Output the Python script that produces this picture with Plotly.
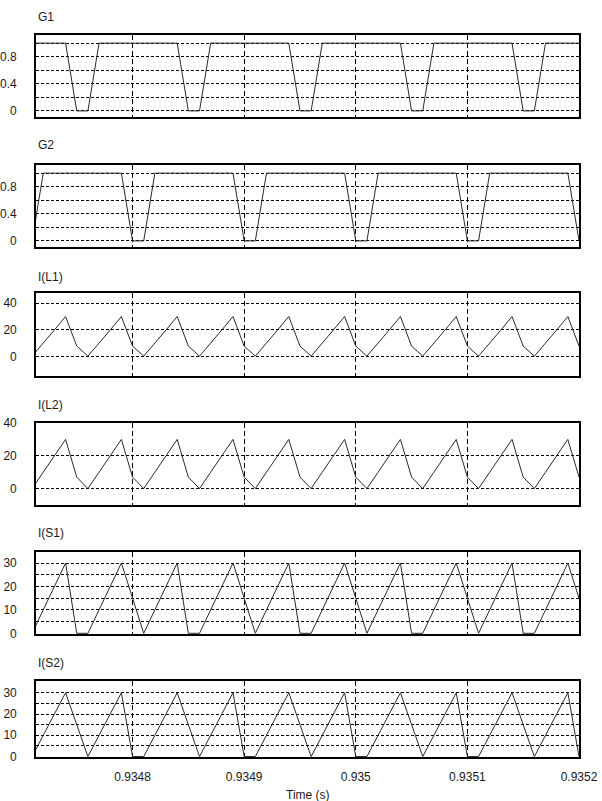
import plotly.graph_objects as go

# ---------------- data ----------------
time_s = [0.93471, 0.93472, 0.93473, 0.93474, 0.93475, 0.93476, 0.93477, 0.93478, 0.93479, 0.93480,
          0.93481, 0.93482, 0.93483, 0.93484, 0.93485, 0.93486, 0.93487, 0.93488, 0.93489, 0.93490,
          0.93491, 0.93492, 0.93493, 0.93494, 0.93495, 0.93496, 0.93497, 0.93498, 0.93499, 0.93500,
          0.93501, 0.93502, 0.93503, 0.93504, 0.93505, 0.93506, 0.93507, 0.93508, 0.93509, 0.93510,
          0.93511, 0.93512, 0.93513, 0.93514, 0.93515, 0.93516, 0.93517, 0.93518, 0.93519, 0.93520]

g1 = [1, 1, 1, 1, 0, 0, 1, 1, 1, 1,
      1, 1, 1, 1, 0, 0, 1, 1, 1, 1,
      1, 1, 1, 1, 0, 0, 1, 1, 1, 1,
      1, 1, 1, 1, 0, 0, 1, 1, 1, 1,
      1, 1, 1, 1, 0, 0, 1, 1, 1, 1]

g2 = [0, 1, 1, 1, 1, 1, 1, 1, 1, 0,
      0, 1, 1, 1, 1, 1, 1, 1, 1, 0,
      0, 1, 1, 1, 1, 1, 1, 1, 1, 0,
      0, 1, 1, 1, 1, 1, 1, 1, 1, 0,
      0, 1, 1, 1, 1, 1, 1, 1, 1, 0]

i_l1 = [0.5, 10, 20, 30, 8, 0.5, 10, 20, 30, 8,
        0.5, 10, 20, 30, 8, 0.5, 10, 20, 30, 8,
        0.5, 10, 20, 30, 8, 0.5, 10, 20, 30, 8,
        0.5, 10, 20, 30, 8, 0.5, 10, 20, 30, 8,
        0.5, 10, 20, 30, 8, 0.5, 10, 20, 30, 8]

i_l2 = [0, 10, 20, 30, 7, 0, 10, 20, 30, 7,
        0, 10, 20, 30, 7, 0, 10, 20, 30, 7,
        0, 10, 20, 30, 7, 0, 10, 20, 30, 7,
        0, 10, 20, 30, 7, 0, 10, 20, 30, 7,
        0, 10, 20, 30, 7, 0, 10, 20, 30, 7]

i_s1 = [0, 10, 20, 30, 0, 0, 10, 20, 30, 15,
        0, 10, 20, 30, 0, 0, 10, 20, 30, 15,
        0, 10, 20, 30, 0, 0, 10, 20, 30, 15,
        0, 10, 20, 30, 0, 0, 10, 20, 30, 15,
        0, 10, 20, 30, 0, 0, 10, 20, 30, 15]

i_s2 = [0, 10, 20, 30, 15, 0, 10, 20, 30, 0,
        0, 10, 20, 30, 15, 0, 10, 20, 30, 0,
        0, 10, 20, 30, 15, 0, 10, 20, 30, 0,
        0, 10, 20, 30, 15, 0, 10, 20, 30, 0,
        0, 10, 20, 30, 15, 0, 10, 20, 30, 0]

panel_names = ["G1", "G2", "I(L1)", "I(L2)", "I(S1)", "I(S2)"]
series = [g1, g2, i_l1, i_l2, i_s1, i_s2]

x_tickvals = [0.9348, 0.9349, 0.935, 0.9351, 0.9352]
x_ticktext = ["0.9348", "0.9349", "0.935", "0.9351", "0.9352"]

gate_grid = [0, 0.2, 0.4, 0.6, 0.8, 1.0]
gate_text = ["0", "", "0.4", "", "0.8", ""]
il_grid = [0, 20, 40]
il_text = ["0", "20", "40"]
is_grid = [0, 5, 10, 15, 20, 25, 30]
is_text = ["0", "", "10", "", "20", "", "30"]

y_tickvals = [gate_grid, gate_grid, il_grid, il_grid, is_grid, is_grid]
y_ticktext = [gate_text, gate_text, il_text, il_text, is_text, is_text]

# ---------------- layout constants ----------------
W, H = 602, 801
ML, MR = 36, 23
panel_px = [(35, 117), (165, 247), (293, 376), (423, 505), (552, 634), (681, 757)]
title_px = [17, 145, 277, 405, 533, 663]
y_ranges = [[-0.09, 1.12], [-0.09, 1.12], [-14.25, 47.5], [-10, 40], [-0.3, 34.7], [-0.2, 35.5]]
x_range = [0.9347135, 0.9352]

FONT = "Liberation Sans Narrow, Arial Narrow, Liberation Sans, Arial, sans-serif"
FS = 12
TXT = "#1a1a1a"

fig = go.Figure()
layout = dict(
    width=W, height=H,
    margin=dict(l=ML, r=MR, t=0, b=0, autoexpand=False),
    paper_bgcolor="white", plot_bgcolor="white",
    showlegend=False,
    font=dict(family=FONT, size=FS, color=TXT),
)
annotations = []

for k in range(6):
    n = k + 1
    xa = "x" if n == 1 else f"x{n}"
    ya = "y" if n == 1 else f"y{n}"
    fig.add_trace(go.Scatter(x=time_s, y=series[k], mode="lines",
                             line=dict(color="#2a2a2a", width=1),
                             xaxis=xa, yaxis=ya, hoverinfo="skip"))
    top, bot = panel_px[k]
    dom = [1 - bot / H, 1 - top / H]
    layout[f"xaxis{'' if n == 1 else n}"] = dict(
        domain=[0, 1], anchor=ya, range=x_range,
        tickvals=x_tickvals, ticktext=x_ticktext,
        showticklabels=(n == 6), ticks="",
        showgrid=True, gridcolor="#000", gridwidth=1, griddash="5px,3px",
        showline=True, linecolor="#000", linewidth=1.6, mirror=True,
        zeroline=False, ticklabelstandoff=8,
        tickfont=dict(size=FS, family=FONT, color=TXT),
    )
    layout[f"yaxis{'' if n == 1 else n}"] = dict(
        domain=dom, anchor=xa, range=y_ranges[k],
        tickvals=y_tickvals[k], ticktext=y_ticktext[k], ticks="",
        showgrid=True, gridcolor="#000", gridwidth=1, griddash="3px,2px",
        showline=True, linecolor="#000", linewidth=1.6, mirror=True,
        zeroline=False, ticklabelstandoff=15,
        tickfont=dict(size=FS, family=FONT, color=TXT),
    )
    annotations.append(dict(
        text=panel_names[k], xref="paper", yref="paper",
        x=0, y=1 - title_px[k] / H, xanchor="left", yanchor="middle",
        showarrow=False, font=dict(size=FS, family=FONT, color=TXT),
    ))

annotations.append(dict(
    text="Time (s)", xref="paper", yref="paper",
    x=0.5, y=1 - 795 / H, xanchor="center", yanchor="middle",
    showarrow=False, font=dict(size=FS, family=FONT, color=TXT),
))
layout["annotations"] = annotations
fig.update_layout(**layout)

fig.write_html("out.html", config={"displayModeBar": False},
               post_script="document.body.style.margin='0';")
